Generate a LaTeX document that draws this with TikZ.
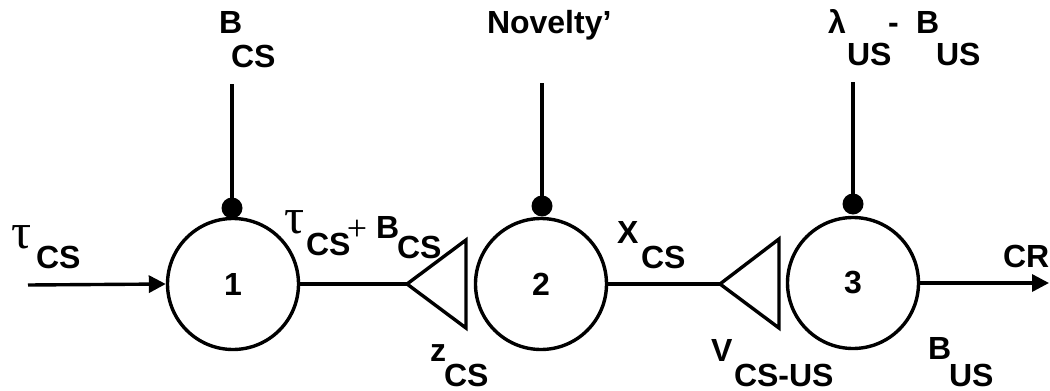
\documentclass[tikz,border=0pt]{standalone}
\usepackage{fontspec}
\setmainfont{Liberation Sans}
\newfontfamily\serifgr{Liberation Serif}
\usetikzlibrary{arrows.meta}
\begin{document}
\begin{tikzpicture}[x=1pt,y=-1pt,
  lw/.style={line width=3.4pt},
  unit/.style={circle,draw,lw,minimum size=131pt,inner sep=0pt,font=\fontsize{32}{34}\bfseries\selectfont},
  lab/.style={anchor=base west,inner sep=0pt,outer sep=0pt,font=\fontsize{32}{34}\bfseries\selectfont},
  glab/.style={anchor=base west,inner sep=0pt,outer sep=0pt,font=\fontsize{50}{52}\serifgr\selectfont},
  plab/.style={anchor=center,inner sep=0pt,outer sep=0pt,font=\fontsize{36}{38}\serifgr\selectfont},
  dotc/.style={circle,fill=black,inner sep=0pt,minimum size=21pt},
  arr/.style={lw,-{Triangle[length=17pt,width=17pt]}}]
\useasboundingbox (0,0) rectangle (1050,391);
% units
\node[unit] (n1) at (233,284) {1};
\node[unit] (n2) at (541,284) {2};
\node[unit] (n3) at (853,283) {3};
% top inputs
\coordinate (s1) at (232,84);
\coordinate (s2) at (542,83);
\coordinate (s3) at (853,82);
\node[dotc] (d1) at (232,208) {};
\node[dotc] (d2) at (542,206) {};
\node[dotc] (d3) at (853,204) {};
\draw[lw] (s1) -- (d1.center);
\draw[lw] (s2) -- (d2.center);
\draw[lw] (s3) -- (d3.center);
% triangles
\coordinate (t1) at (407,284);
\coordinate (t2) at (720,284);
\draw[lw,line join=miter] (t1) -- ++(59,-44) -- ++(0,88) -- cycle;
\draw[lw,line join=miter] (t2) -- ++(59,-45) -- ++(0,89) -- cycle;
% connectors
\coordinate (in) at (28,285);
\coordinate (out) at (1049,283);
\draw[arr] (in) -- (n1.west);
\draw[lw] (n1.east) -- (t1);
\draw[lw] (n2.east) -- (t2);
\draw[arr] (n3.east) -- (out);
% labels
\node[lab] (bcs1) at (219,33) {B};
\node[lab] (bcs1s) at (231,67) {CS};
\node[lab] (nov) at (487,33) {Novelty’};
\node[lab] (lam) at (828,33) {λ};
\node[lab] (lams) at (847,65) {US};
\node[lab] (minus) at (888,33) {-};
\node[lab] (bus1) at (916,33) {B};
\node[lab] (bus1s) at (936,65) {US};
\node[glab] (tau1) at (11,248) {τ};
\node[lab] (tau1s) at (36,268) {CS};
\node[glab] (tau2) at (284,233) {τ};
\node[lab] (tau2s) at (306,255) {CS};
\node[plab] (plus) at (357,230) {+};
\node[lab] (bcs2) at (376,238) {B};
\node[lab] (bcs2s) at (397,258) {CS};
\node[lab] (xcs) at (617,243) {X};
\node[lab] (xcss) at (641,268) {CS};
\node[lab] (zcs) at (430,361) {z};
\node[lab] (zcss) at (444,386) {CS};
\node[lab] (vcs) at (711,361) {V};
\node[lab] (vcss) at (734,386) {CS-US};
\node[lab] (bus2) at (928,359) {B};
\node[lab] (bus2s) at (949,386) {US};
\node[lab] (cr) at (1003,267) {CR};
\end{tikzpicture}
\end{document}
